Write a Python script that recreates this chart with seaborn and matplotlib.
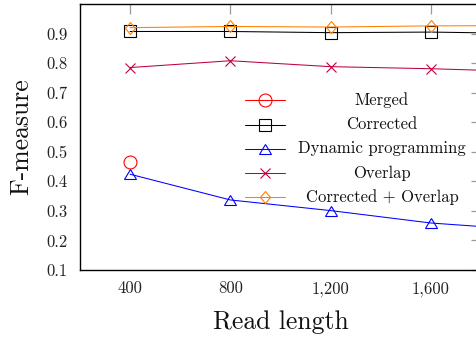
import matplotlib
matplotlib.use("Agg")
import matplotlib.pyplot as plt
from matplotlib.markers import MarkerStyle
from matplotlib.transforms import Affine2D
import seaborn as sns
import pandas as pd

# ---- data ----
read_length = [400, 800, 1200, 1600, 2000]
merged_x = [400]
merged = [0.465]
corrected = [0.907, 0.907, 0.903, 0.905, 0.900]
dynamic = [0.424, 0.337, 0.301, 0.259, 0.235]
overlap = [0.785, 0.808, 0.788, 0.781, 0.771]
corr_overlap = [0.920, 0.924, 0.922, 0.926, 0.927]
series_names = ["Merged", "Corrected", "Dynamic programming", "Overlap", "Corrected + Overlap"]
x_ticks = [400, 800, 1200, 1600]
x_tick_labels = ["400", "800", "1,200", "1,600"]
y_ticks = [0.1, 0.2, 0.3, 0.4, 0.5, 0.6, 0.7, 0.8, 0.9]
y_tick_labels = ["0.1", "0.2", "0.3", "0.4", "0.5", "0.6", "0.7", "0.8", "0.9"]

sns.set_style("white")
plt.rcParams["font.family"] = ["cmr10", "DejaVu Serif"]
plt.rcParams["axes.formatter.use_mathtext"] = True

fig = plt.figure(figsize=(4.77, 3.37), dpi=100)
ax = fig.add_axes([80 / 477, 1 - 270 / 337, 401 / 477, 266 / 337])

lw = 0.75
mew = 0.8
tri = MarkerStyle("^", transform=Affine2D().scale(1.0, 0.8))
dia = MarkerStyle("D", transform=Affine2D().scale(0.82, 1.0))
styles = [
    dict(color="#FF0000", marker="o", ms=9.3),
    dict(color="#000000", marker="s", ms=9.3),
    dict(color="#0000FF", marker=tri, ms=8.6),
    dict(color="#BF0040", marker="x", ms=6.8),
    dict(color="#FF8000", marker=dia, ms=6.6),
]
xs = [merged_x, read_length, read_length, read_length, read_length]
ys = [merged, corrected, dynamic, overlap, corr_overlap]

for name, x, y, st in zip(series_names, xs, ys, styles):
    df = pd.DataFrame({"x": x, "y": y})
    sns.lineplot(data=df, x="x", y="y", ax=ax, color=st["color"], lw=lw,
                 marker=st["marker"], markersize=st["ms"], markerfacecolor="none",
                 markeredgecolor=st["color"], markeredgewidth=mew, label=name,
                 linestyle="-")

h, l = ax.get_legend_handles_labels()

ax.set_xlim(200, 1800)
ax.set_ylim(0.1, 1.0)
ax.set_xticks(x_ticks)
ax.set_xticklabels(x_tick_labels)
ax.set_yticks(y_ticks)
ax.set_yticklabels(y_tick_labels)
ax.tick_params(axis="both", which="major", direction="in", length=7, width=0.9,
               color="#9a9a9a", labelsize=12, top=True, right=True,
               labelcolor="#222222")
ax.tick_params(axis="y", pad=9)
ax.tick_params(axis="x", pad=8)
for s in ax.spines.values():
    s.set_color("black")
    s.set_linewidth(1.0)
    s.set_visible(True)
ax.set_xlabel("Read length", fontsize=18.5, labelpad=10, color="#111111")
ax.set_ylabel("F-measure", fontsize=18.5, labelpad=9, color="#111111")

leg = ax.legend(h, [""] * len(h), loc="upper left",
                bbox_to_anchor=((245 - 80) / 401, (270 - 94) / 266),
                frameon=False, fontsize=12, handlelength=2.4, handletextpad=0.0,
                labelspacing=0.53, borderpad=0.0, borderaxespad=0.0)

fig.canvas.draw()
renderer = fig.canvas.get_renderer()
H = fig.bbox.height
for hd, name in zip(leg.legend_handles, series_names):
    bb = hd.get_window_extent(renderer)
    yc = (bb.y0 + bb.y1) / 2 / H
    fig.text(382 / 477, yc, name, ha="center", va="center", fontsize=12,
             color="#111111")

fig.savefig("out.png", dpi=100)
